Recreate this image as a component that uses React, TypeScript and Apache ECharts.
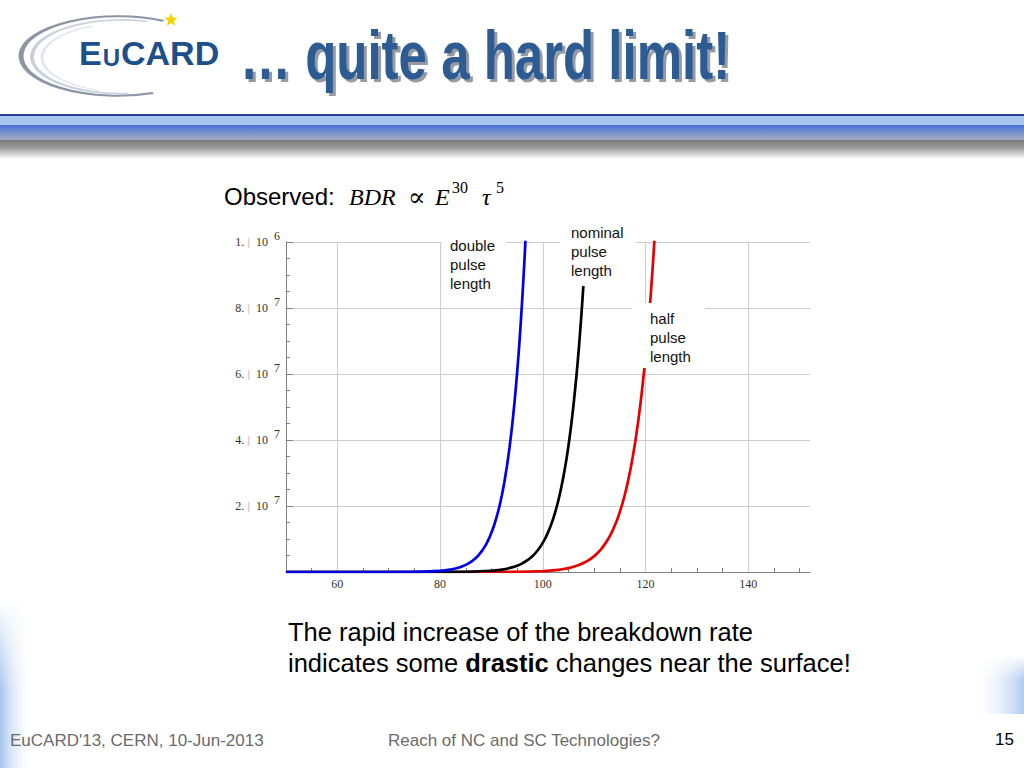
import React, { useEffect, useRef } from 'react';
import * as echarts from 'echarts';

// ---- data (field E, breakdown rate) ----
const blueE = [50, 60, 70, 75, 80, 81, 82, 83, 84, 85, 86, 86.5, 87, 87.5, 88, 88.5, 89, 89.5, 90, 90.5, 91, 91.5, 92, 92.5, 93, 93.5, 94, 94.5, 95, 95.5, 96, 96.5, 97];
const blueV = [0, 62, 6400, 50000, 350000, 507000, 732000, 1050000, 1510000, 2160000, 3060000, 3640000, 4320000, 5140000, 6100000, 7230000, 8550000, 10100000, 12000000, 14100000, 16700000, 19600000, 23100000, 27200000, 32000000, 37600000, 44100000, 51700000, 60600000, 70900000, 83000000, 96900000, 113000000];

const blackE = [50, 70, 80, 85, 90, 92, 93, 94, 95, 96, 97, 97.5, 98, 98.5, 99, 99.5, 100, 100.5, 101, 101.5, 102, 102.5, 103, 103.5, 104, 104.5, 105, 105.5, 106, 106.5, 107, 107.5, 108, 108.5];
const blackV = [0, 200, 11000, 68000, 380000, 730000, 1000000, 1390000, 1900000, 2610000, 3570000, 4160000, 4850000, 5650000, 6600000, 7650000, 8900000, 10300000, 12000000, 13900000, 16100000, 18700000, 21600000, 25000000, 28900000, 33300000, 38400000, 44300000, 51100000, 58800000, 67700000, 77900000, 89500000, 102800000];

const redE = [50, 80, 90, 95, 100, 102, 103, 104, 105, 106, 107, 108, 109, 110, 110.5, 111, 111.5, 112, 112.5, 113, 113.5, 114, 114.5, 115, 115.5, 116, 116.5, 117, 117.5, 118, 118.5, 119, 119.5, 120, 120.5, 121, 121.5, 122];
const redV = [0, 340, 12000, 59000, 280000, 500000, 670000, 896000, 1190000, 1590000, 2100000, 2780000, 3660000, 4820000, 5520000, 6300000, 7240000, 8300000, 9460000, 10800000, 12300000, 14100000, 16000000, 18300000, 20800000, 23700000, 27000000, 30700000, 34900000, 39600000, 45000000, 51000000, 57900000, 65500000, 74300000, 84000000, 95200000, 107700000];

const xMajor = [60, 80, 100, 120, 140];
const xMinor = [55, 65, 70, 75, 85, 90, 95, 105, 110, 115, 125, 130, 135, 145, 150];
const yTicks = [0, 20000000, 40000000, 60000000, 80000000, 100000000];
const yMantissa = ['', '2.', '4.', '6.', '8.', '1.'];
const yExponent = ['', '7', '7', '7', '7', '6'];

const serif = '"Liberation Serif", "DejaVu Serif", serif';
const sans = '"Liberation Sans", Arial, sans-serif';

function zip(xs: number[], ys: number[]) {
  return xs.map((x, i) => [x, ys[i]]);
}

function starPoints(cx: number, cy: number, ro: number, ri: number) {
  const pts: number[][] = [];
  for (let i = 0; i < 10; i++) {
    const a = -Math.PI / 2 + (i * Math.PI) / 5;
    const r = i % 2 === 0 ? ro : ri;
    pts.push([cx + r * Math.cos(a), cy + r * Math.sin(a)]);
  }
  return pts;
}

function txt(x: number, y: number, text: string, font: string, fill = '#000', extra: any = {}) {
  return {
    type: 'text',
    x,
    y,
    z: 100,
    silent: true,
    style: { text, font, fill, textAlign: 'left', textVerticalAlign: 'middle', ...extra },
  };
}

function buildOption() {
  const axisGrey = '#808080';
  const graphics: any[] = [
    // header band
    { type: 'rect', z: 50, shape: { x: 0, y: 114, width: 1024, height: 2 }, style: { fill: '#2a3c9c' } },
    { type: 'rect', z: 50, shape: { x: 0, y: 116, width: 1024, height: 9 }, style: { fill: '#a8c7ef' } },
    {
      type: 'rect', z: 50, shape: { x: 0, y: 125, width: 1024, height: 15 },
      style: {
        fill: {
          type: 'linear', x: 0, y: 0, x2: 0, y2: 1,
          colorStops: [{ offset: 0, color: '#4a70d2' }, { offset: 0.4, color: '#6f8ccf' }, { offset: 1, color: '#a3abc2' }],
        },
      },
    },
    {
      type: 'rect', z: 50, shape: { x: 0, y: 140, width: 1024, height: 19 },
      style: {
        fill: {
          type: 'linear', x: 0, y: 0, x2: 0, y2: 1,
          colorStops: [{ offset: 0, color: '#7a7a7a' }, { offset: 0.4, color: '#9a9a9a' }, { offset: 1, color: '#ffffff' }],
        },
      },
    },
    // corner decorations
    {
      type: 'rect', z: 40, shape: { x: 0, y: 600, width: 34, height: 168 },
      style: {
        fill: {
          type: 'linear', x: 0, y: 0, x2: 1, y2: 0,
          colorStops: [{ offset: 0, color: 'rgba(160,194,236,0.95)' }, { offset: 1, color: 'rgba(255,255,255,0)' }],
        },
      },
    },
    {
      type: 'rect', z: 41, shape: { x: 0, y: 600, width: 34, height: 90 },
      style: {
        fill: {
          type: 'linear', x: 0, y: 0, x2: 0, y2: 1,
          colorStops: [{ offset: 0, color: 'rgba(255,255,255,1)' }, { offset: 1, color: 'rgba(255,255,255,0)' }],
        },
      },
    },
    {
      type: 'rect', z: 40, shape: { x: 972, y: 655, width: 52, height: 59 },
      style: {
        fill: {
          type: 'linear', x: 0, y: 0, x2: 1, y2: 0,
          colorStops: [{ offset: 0, color: 'rgba(255,255,255,0)' }, { offset: 1, color: 'rgba(170,200,238,0.95)' }],
        },
      },
    },
    {
      type: 'rect', z: 41, shape: { x: 972, y: 655, width: 52, height: 25 },
      style: {
        fill: {
          type: 'linear', x: 0, y: 0, x2: 0, y2: 1,
          colorStops: [{ offset: 0, color: 'rgba(255,255,255,1)' }, { offset: 1, color: 'rgba(255,255,255,0)' }],
        },
      },
    },
    // logo swoosh
    {
      type: 'group', x: 118, y: 56, scaleY: 0.41, z: 60,
      children: [
        { type: 'arc', z: 60, shape: { cx: 0, cy: 0, r: 97, startAngle: 1.2, endAngle: 5.2, clockwise: true }, style: { stroke: '#8c96a6', lineWidth: 5, fill: 'none' } },
        { type: 'arc', z: 61, shape: { cx: 4, cy: 2, r: 90, startAngle: 1.5, endAngle: 5.0, clockwise: true }, style: { stroke: '#c9d0dc', lineWidth: 4, fill: 'none' } },
        { type: 'arc', z: 61, shape: { cx: 8, cy: 4, r: 84, startAngle: 1.9, endAngle: 4.3, clockwise: true }, style: { stroke: '#e2e6ee', lineWidth: 3, fill: 'none' } },
      ],
    },
    { type: 'polygon', z: 62, shape: { points: starPoints(171, 20, 7, 3) }, style: { fill: '#f2d400' } },
    {
      type: 'text', x: 79, y: 53, z: 100, silent: true,
      style: {
        text: '{c|E}{u|U}{c|CARD}',
        textAlign: 'left', textVerticalAlign: 'middle',
        rich: {
          c: { fontFamily: sans, fontSize: 34, fontWeight: 'bold', fill: '#1d4f8a', verticalAlign: 'bottom' },
          u: { fontFamily: sans, fontSize: 24, fontWeight: 'bold', fill: '#1d4f8a', verticalAlign: 'bottom', padding: [0, 1, 1, 1] },
        },
      },
    },
    // title with shadow
    { type: 'text', x: 243, y: 59, scaleX: 0.75, z: 60, silent: true, style: { text: '… quite a hard limit!', font: `bold 68px ${sans}`, fill: 'rgba(20,30,50,0.45)', textAlign: 'left', textVerticalAlign: 'middle' } },
    { type: 'text', x: 240, y: 56, scaleX: 0.75, z: 61, silent: true, style: { text: '… quite a hard limit!', font: `bold 68px ${sans}`, fill: '#2d5c94', textAlign: 'left', textVerticalAlign: 'middle' } },
    // formula line
    txt(224, 196, 'Observed:', `24px ${sans}`),
    txt(349, 197, 'BDR', `italic 24px ${serif}`),
    txt(408, 197, '∝', `26px "DejaVu Serif", serif`),
    txt(435, 197, 'E', `italic 24px ${serif}`),
    txt(452, 187, '30', `16px ${serif}`),
    txt(482, 197, 'τ', `italic 24px ${serif}`),
    txt(496, 187, '5', `16px ${serif}`),
    // curve labels with white boxes
    { type: 'rect', z: 90, shape: { x: 442, y: 232, width: 64, height: 64 }, style: { fill: '#ffffff' } },
    txt(450, 245, 'double', `15px ${sans}`, '#111'),
    txt(450, 264, 'pulse', `15px ${sans}`, '#111'),
    txt(450, 283, 'length', `15px ${sans}`, '#111'),
    { type: 'rect', z: 90, shape: { x: 560, y: 220, width: 76, height: 66 }, style: { fill: '#ffffff' } },
    txt(571, 232, 'nominal', `15px ${sans}`, '#111'),
    txt(571, 251, 'pulse', `15px ${sans}`, '#111'),
    txt(571, 270, 'length', `15px ${sans}`, '#111'),
    { type: 'rect', z: 90, shape: { x: 632, y: 303, width: 73, height: 65 }, style: { fill: '#ffffff' } },
    txt(650, 318, 'half', `15px ${sans}`, '#111'),
    txt(650, 337, 'pulse', `15px ${sans}`, '#111'),
    txt(650, 356, 'length', `15px ${sans}`, '#111'),
    // comment text
    txt(288, 632, 'The rapid increase of the breakdown rate', `25.5px ${sans}`),
    {
      type: 'text', x: 288, y: 663, z: 100, silent: true,
      style: {
        text: '{a|indicates some }{b|drastic}{a| changes near the surface!}',
        textAlign: 'left', textVerticalAlign: 'middle',
        rich: {
          a: { fontFamily: sans, fontSize: 25.5, fill: '#000' },
          b: { fontFamily: sans, fontSize: 25.5, fontWeight: 'bold', fill: '#000' },
        },
      },
    },
    // footer
    txt(10, 740, "EuCARD'13, CERN, 10-Jun-2013", `17px ${sans}`, '#6b6b6b'),
    txt(388, 740, 'Reach of NC and SC Technologies?', `17px ${sans}`, '#6b6b6b'),
    txt(995, 739, '15', `17px ${sans}`, '#000'),
  ];

  const line = (name: string, xs: number[], ys: number[], color: string, extra: any = {}) => ({
    type: 'line',
    name,
    data: zip(xs, ys),
    xAxisIndex: 0,
    yAxisIndex: 0,
    showSymbol: false,
    symbol: 'none',
    smooth: 0.2,
    clip: true,
    silent: true,
    lineStyle: { color, width: 2.7 },
    itemStyle: { color },
    z: 3,
    ...extra,
  });

  return {
    animation: false,
    backgroundColor: '#ffffff',
    grid: { left: 286, right: 214, top: 242, bottom: 196, containLabel: false },
    xAxis: [
      {
        type: 'value', min: 50, max: 152, position: 'bottom',
        axisLine: { show: true, onZero: false, lineStyle: { color: axisGrey, width: 1 } },
        axisTick: { show: true, inside: true, length: 7, customValues: xMajor, lineStyle: { color: axisGrey } },
        axisLabel: { show: true, customValues: xMajor, margin: 6, fontFamily: serif, fontSize: 12, color: '#333' },
        splitLine: { show: false },
      },
      {
        type: 'value', min: 50, max: 152, position: 'bottom',
        axisLine: { show: false },
        axisTick: { show: true, inside: true, length: 4, customValues: xMinor, lineStyle: { color: axisGrey } },
        axisLabel: { show: false },
        splitLine: { show: false },
      },
    ],
    yAxis: [
      {
        type: 'value', min: 0, max: 100000000, interval: 20000000,
        axisLine: { show: true, onZero: false, lineStyle: { color: axisGrey, width: 1 } },
        axisTick: { show: true, inside: true, length: 7, lineStyle: { color: axisGrey } },
        minorTick: { show: true, splitNumber: 4, length: 4, lineStyle: { color: axisGrey } },
        splitLine: { show: true, lineStyle: { color: '#cdcdcd', width: 1 } },
        axisLabel: {
          margin: 6,
          formatter: (v: number) => {
            const i = yTicks.indexOf(v);
            if (i <= 0) return '';
            return `{n|${yMantissa[i]}}{g||}{t|10}{s|${yExponent[i]}}`;
          },
          rich: {
            n: { fontFamily: serif, fontSize: 12, color: '#333' },
            g: { fontFamily: sans, fontSize: 11, color: '#c0c0c0', padding: [0, 6, 0, 3] },
            t: { fontFamily: serif, fontSize: 12, color: '#333' },
            s: { fontFamily: serif, fontSize: 12, color: '#333', padding: [0, 0, 12, 6] },
          },
        },
      },
    ],
    series: [
      line('half pulse length', redE, redV, '#e60000', {
        markLine: {
          silent: true,
          z: 1,
          symbol: ['none', 'none'],
          label: { show: false },
          lineStyle: { color: '#cdcdcd', width: 1, type: 'solid' },
          emphasis: { disabled: true },
          data: xMajor.map((v) => ({ xAxis: v })),
        },
      }),
      line('nominal pulse length', blackE, blackV, '#000000'),
      line('double pulse length', blueE, blueV, '#0000e6'),
    ],
    graphic: { elements: graphics },
  };
}

export default function App() {
  const ref = useRef<HTMLDivElement>(null);
  useEffect(() => {
    if (!ref.current) return;
    const chart = echarts.init(ref.current, null, { renderer: 'svg' });
    chart.setOption(buildOption() as any);
    return () => chart.dispose();
  }, []);
  return (
    <div
      ref={ref}
      style={{ position: 'absolute', left: 0, top: 0, width: 1024, height: 768, background: '#ffffff' }}
    />
  );
}
